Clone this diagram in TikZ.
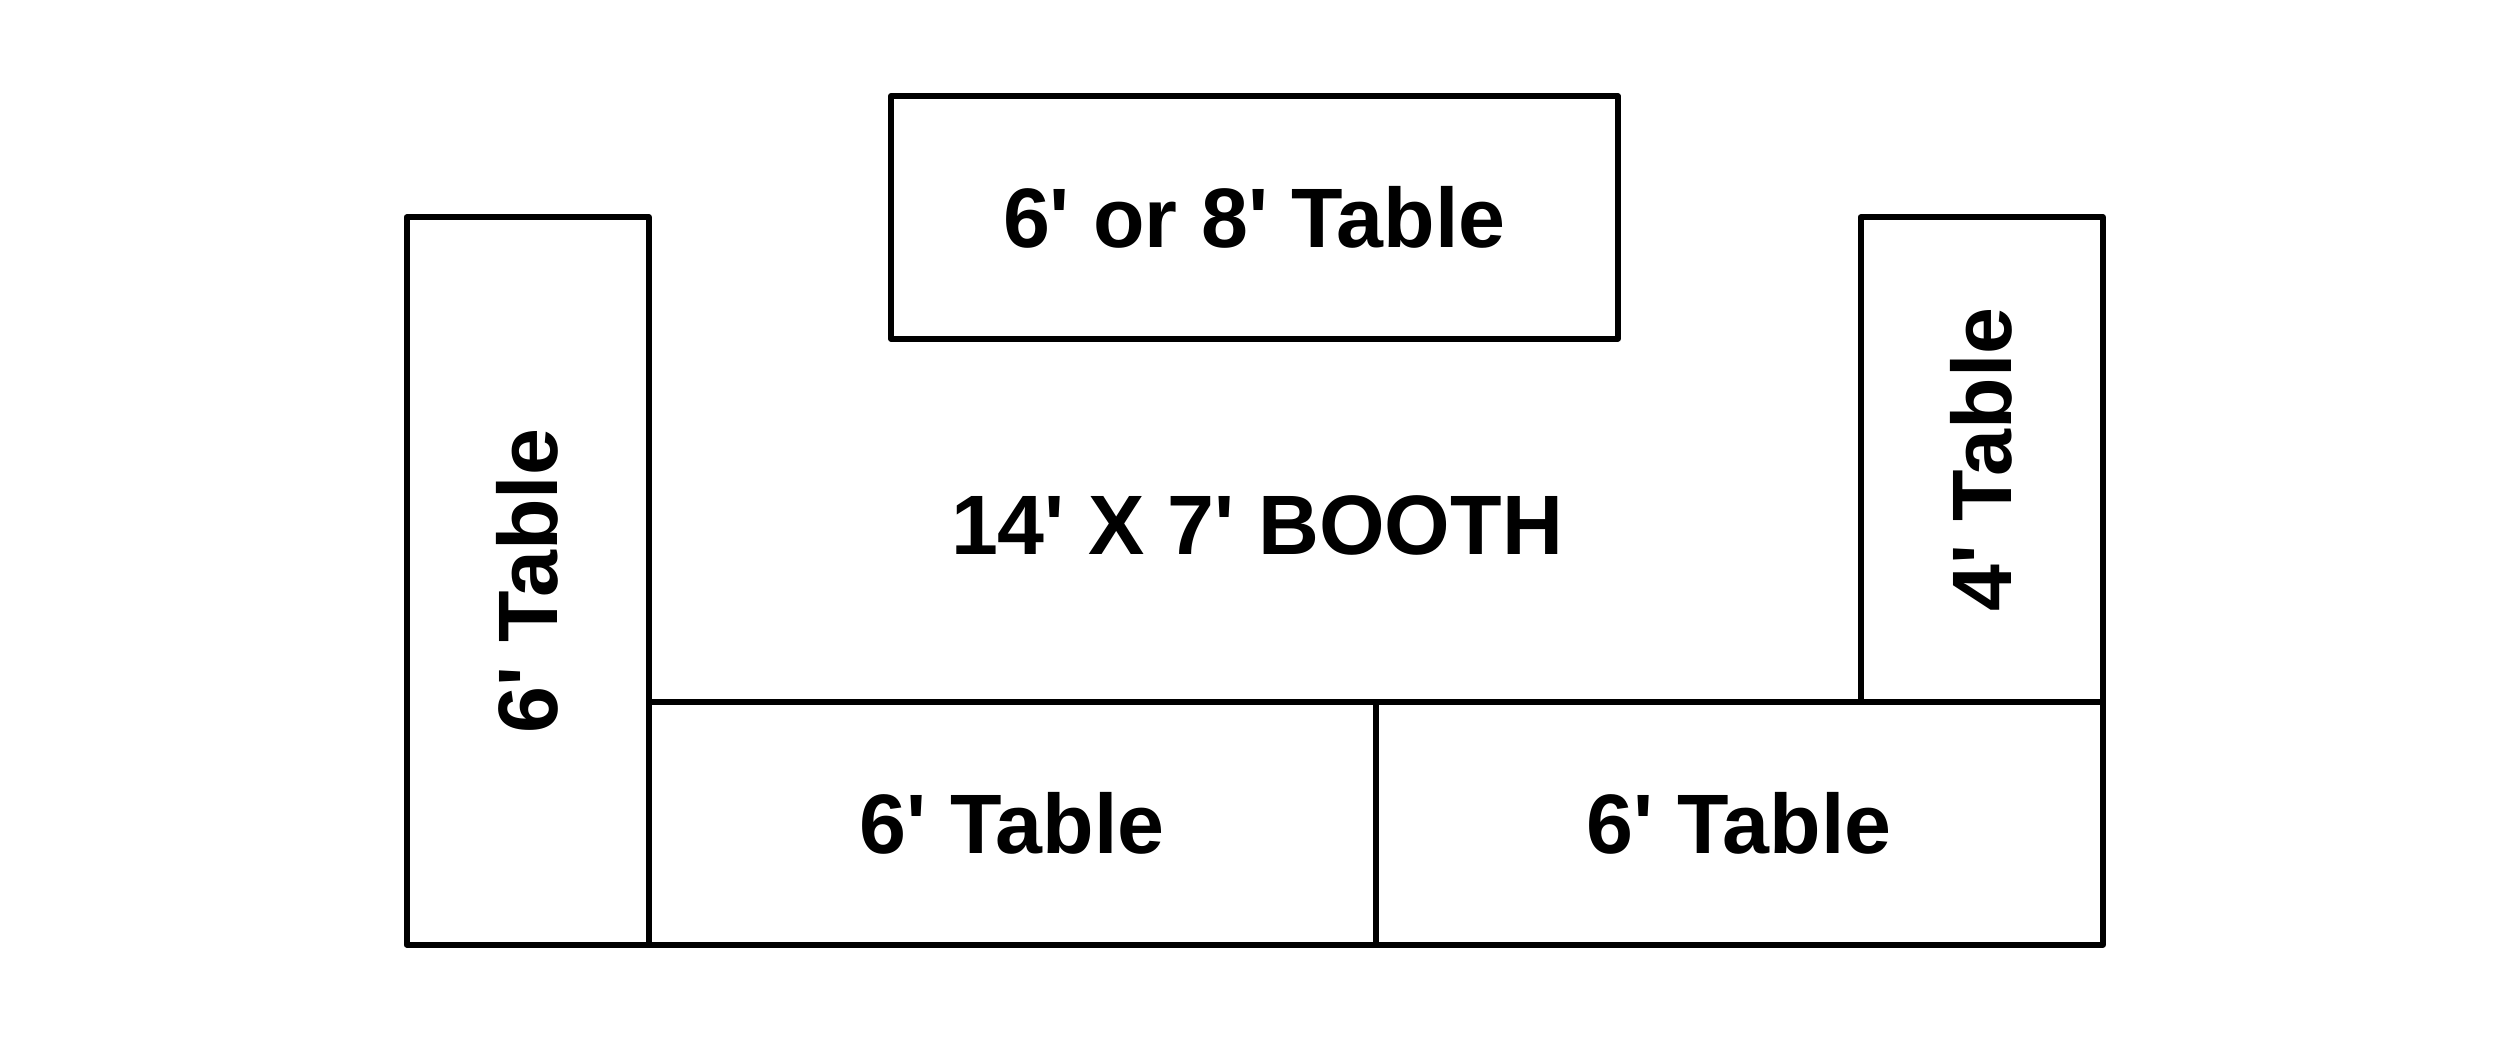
\documentclass[tikz,border=0pt]{standalone}
\usepackage{fontspec}
\setmainfont{Liberation Sans}
\usetikzlibrary{positioning}
\newcommand{\ft}{\textquotesingle}

\begin{document}
\begin{tikzpicture}[line width=1.7pt, line join=round,
  tablebox/.style = {draw, rectangle, inner sep=0pt, font=\fontsize{24}{28}\selectfont\bfseries}]
  \useasboundingbox (0,0) rectangle (25,10.42);
  % tables round the booth
  \node[tablebox, minimum width=7.267cm, minimum height=2.427cm] (toptable) at (12.5435,8.2465) {6\ft{} or 8\ft{} Table};
  \node[tablebox, rotate=90, minimum width=7.274cm, minimum height=2.42cm] (lefttable) at (5.277,4.61) {6\ft{} Table};
  \node[tablebox, rotate=90, minimum width=4.847cm, minimum height=2.42cm] (righttable) at (19.817,5.8235) {4\ft{} Table};
  \node[tablebox, minimum width=7.27cm, minimum height=2.427cm] (bottomleft) at (10.122,2.1865) {6\ft{} Table};
  \node[tablebox, minimum width=7.27cm, minimum height=2.427cm] (bottomright) at (17.392,2.1865) {6\ft{} Table};
  \node[font=\fontsize{24}{28}\selectfont\bfseries] (booth) at (12.57,5.17) {14\ft{} X 7\ft{} BOOTH};
\end{tikzpicture}
\end{document}
